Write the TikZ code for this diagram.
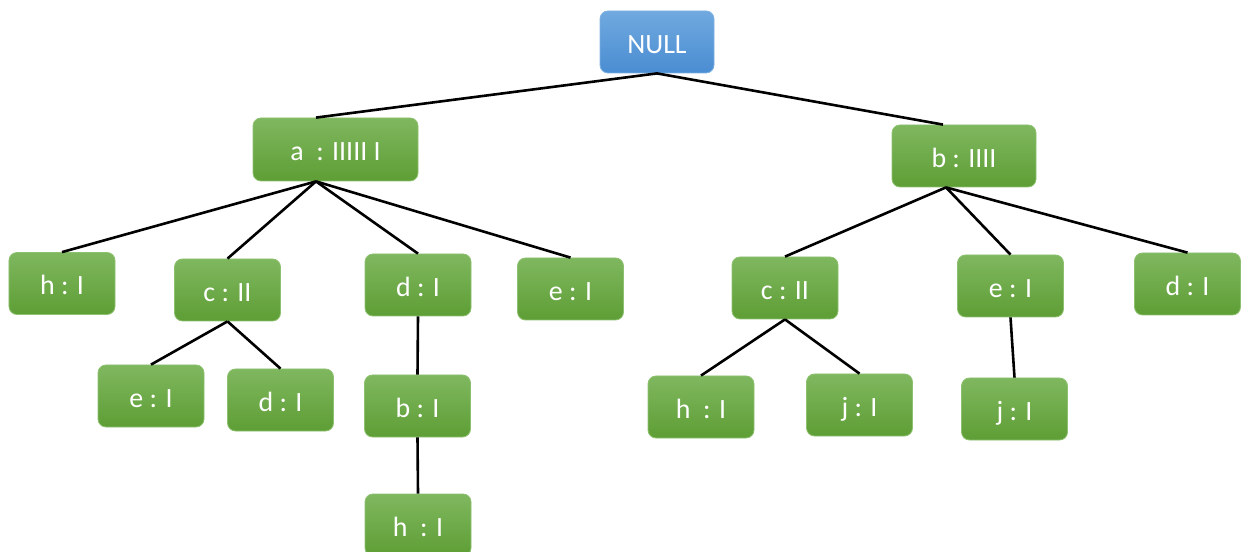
\documentclass[tikz,border=0pt]{standalone}
\usepackage{fontspec}
\setmainfont{Carlito}
\definecolor{gtop}{HTML}{7FB75F}
\definecolor{gbot}{HTML}{5E9E35}
\definecolor{gedge}{HTML}{8DC170}
\definecolor{btop}{HTML}{70A9DF}
\definecolor{bbot}{HTML}{4A8DD2}
\definecolor{bedge}{HTML}{7DB1E2}
\begin{document}
\begin{tikzpicture}[x=1bp,y=-1bp,
  box/.style={draw=gedge, line width=0.8bp, rounded corners=8bp,
    top color=gtop, bottom color=gbot, text=white,
    font=\fontsize{28}{32}\selectfont, text height=23bp, text depth=0pt,
    minimum width=106bp, minimum height=62bp, inner sep=0pt},
  rootbox/.style={box, draw=bedge, top color=btop, bottom color=bbot},
  link/.style={line width=2.6bp, draw=black}]
\useasboundingbox (0,0) rectangle (1249,552);

% root
\node[rootbox, minimum width=114bp] (root) at (657,42) {NULL};

% first level
\node[box, minimum width=165bp, minimum height=63bp] (a) at (335.5,149.5) {a\ \ : IIIII I};
\node[box, minimum width=144bp] (b) at (964,156) {b : IIII};

% children of a
\node[box] (ah) at (62,283.5) {h : I};
\node[box] (ac) at (227.5,290) {c : II};
\node[box] (ad) at (418,285) {d : I};
\node[box] (ae) at (570.5,289) {e : I};

\node[box] (ace) at (151,396) {e : I};
\node[box] (acd) at (280.5,400) {d : I};
\node[box] (adb) at (417.5,406) {b : I};
\node[box] (adbh) at (418,525) {h\ \ : I};

% children of b
\node[box] (bc) at (785,288) {c : II};
\node[box] (be) at (1010.5,286) {e : I};
\node[box] (bd) at (1187.5,284) {d : I};

\node[box] (bch) at (701,407) {h\ \ : I};
\node[box] (bcj) at (859.5,405) {j : I};
\node[box] (bej) at (1014.5,409) {j : I};

% connectors
\draw[link] (root.south) -- ([xshift=-19.5bp]a.north);
\draw[link] (root.south) -- ([xshift=-21bp]b.north);

\draw[link] ([xshift=-19.5bp]a.south) -- (ah.north);
\draw[link] ([xshift=-19.5bp]a.south) -- (ac.north);
\draw[link] ([xshift=-19.5bp]a.south) -- (ad.north);
\draw[link] ([xshift=-19.5bp]a.south) -- (ae.north);

\draw[link] (ac.south) -- (ace.north);
\draw[link] (ac.south) -- (acd.north);
\draw[link] (ad.south) -- (adb.north);
\draw[link] (adb.south) -- (adbh.north);

\draw[link] ([xshift=-18bp]b.south) -- (bc.north);
\draw[link] ([xshift=-18bp]b.south) -- (be.north);
\draw[link] ([xshift=-18bp]b.south) -- (bd.north);

\draw[link] (bc.south) -- (bch.north);
\draw[link] (bc.south) -- (bcj.north);
\draw[link] (be.south) -- (bej.north);
\end{tikzpicture}
\end{document}
